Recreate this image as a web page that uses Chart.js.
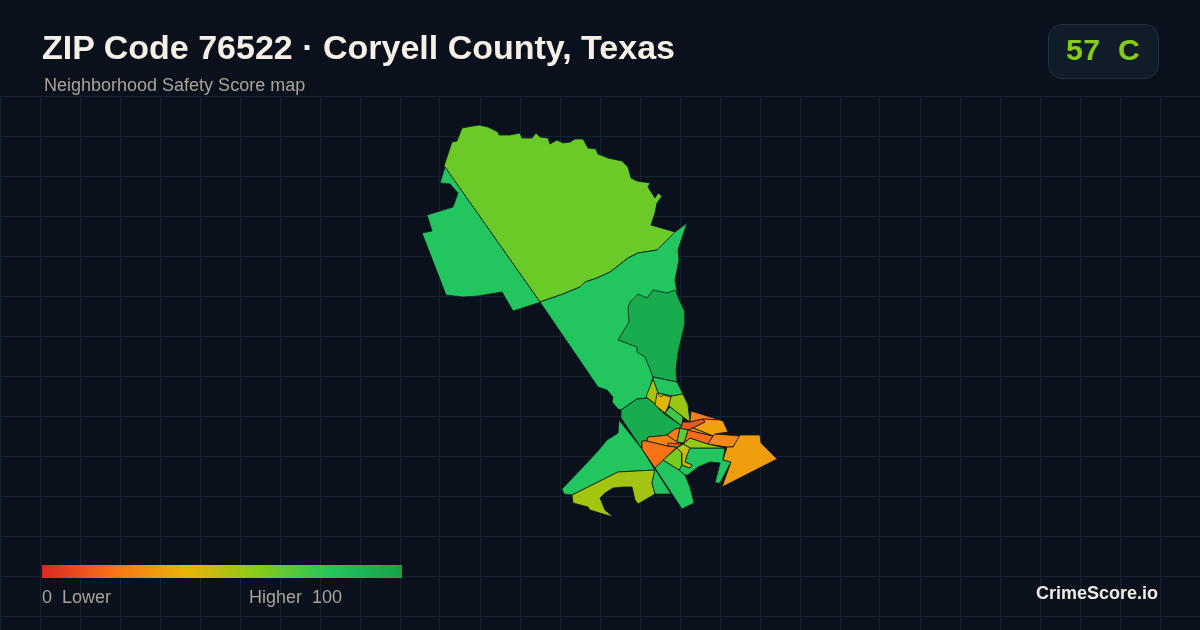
<!DOCTYPE html>
<html>
<head>
<meta charset="utf-8">
<title>ZIP Code 76522</title>
<script src="https://cdn.jsdelivr.net/npm/chart.js@4/dist/chart.umd.min.js"></script>
<style>
  html, body { margin: 0; padding: 0; background: #0a111c; }
  body { width: 1200px; height: 630px; position: relative; overflow: hidden; font-family: "Liberation Sans", Arial, sans-serif; }
  #mapChart { position: absolute; left: 0; top: 0; width: 1200px; height: 630px; }
  .t { position: absolute; white-space: pre; line-height: 1; }
  #title { left: 42px; top: 30px; font-size: 34px; font-weight: bold; color: #f5efe6; }
  #sub { left: 44px; top: 76px; font-size: 18px; color: #a8a498; }
  #badge { position: absolute; left: 1048px; top: 24px; width: 109px; height: 53px; background: #111c29; border: 1px solid #233040; border-radius: 14px; }
  #grade { left: 1066px; top: 35px; font-size: 30px; font-weight: bold; color: #84cc16; letter-spacing: 0.5px; }
  #bar { position: absolute; left: 42px; top: 565px; width: 360px; height: 13px; background: linear-gradient(90deg, #dc2626, #f97316 20%, #eab308 40%, #84cc16 60%, #22c55e 80%, #16a34a); }
  #low { left: 42px; top: 588px; font-size: 18px; color: #a8a498; }
  #high { left: 249px; top: 588px; font-size: 18px; color: #a8a498; }
  #brand { left: 1036px; top: 584px; font-size: 18px; font-weight: bold; color: #f0ece4; }
</style>
</head>
<body>
<canvas id="mapChart" width="1200" height="630"></canvas>
<div class="t" id="title">ZIP Code 76522 · Coryell County, Texas</div>
<div class="t" id="sub">Neighborhood Safety Score map</div>
<div id="badge"></div>
<div class="t" id="grade">57  C</div>
<div id="bar"></div>
<div class="t" id="low">0  Lower</div>
<div class="t" id="high">Higher  100</div>
<div class="t" id="brand">CrimeScore.io</div>
<script>
// grid lines, in map units
const gridX = [0,40,80,120,160,200,240,280,320,360,400,440,480,520,560,600,640,680,720,760,800,840,880,920,960,1000,1040,1080,1120,1160,1200];
const gridY = [96,136,176,216,256,296,336,376,416,456,496,536,576,616];

// score colour ramp, same as the legend
const rampStops = [0, 20, 40, 60, 80, 100];
const rampColors = [[220,38,38],[249,115,22],[234,179,8],[132,204,22],[34,197,94],[22,163,74]];

// tract outlines (map units)
const north = [[445,163],[452,142],[457,141],[462,128],[473,126],[479,125],[488,127],[498,132],[499,135],[510,135],[520,133],[522,138],[532,138],[536,133],[540,137],[548,138],[550,144],[557,140],[563,143],[570,142],[575,139],[583,139],[588,148],[596,149],[598,154],[608,158],[622,161],[628,167],[631,178],[637,181],[650,183],[648,187],[655,198],[658,193],[662,196],[657,203],[655,213],[651,225],[675,232],[657,250],[638,253],[628,258],[610,272],[597,278],[585,282],[580,287],[563,294],[540,302],[444,166]];
const west = [[445,167],[440,183],[450,184],[458,193],[453,207],[427,215],[432,231],[422,233],[446,295],[463,297],[478,296],[502,292],[513,311],[538,303],[540,302]];
const central = [[540,302],[563,294],[580,287],[585,282],[597,278],[610,272],[628,258],[638,253],[657,250],[675,232],[687,223],[678,250],[679,260],[675,280],[678,297],[678,353],[676,370],[677,382],[653,377],[647,398],[637,399],[621,410],[618,409],[612,402],[613,397],[607,390],[598,387]];
const fort = [[630,302],[638,294],[647,298],[653,290],[667,293],[675,290],[678,297],[685,312],[685,323],[678,353],[676,370],[677,382],[653,377],[645,357],[637,352],[637,347],[618,340],[629,322],[628,308]];
const southWest = [[619,420],[618,433],[607,440],[597,452],[583,467],[562,489],[564,494],[572,495],[618,472],[655,470],[642,449]];
const southBend = [[572,495],[618,472],[655,470],[652,483],[655,494],[638,504],[635,500],[632,487],[623,487],[613,488],[605,493],[600,498],[605,510],[613,517],[590,510],[588,507],[573,503]];
const southSmall = [[655,469],[652,483],[655,494],[671,494]];
const southStrip = [[655,468],[663,460],[679,470],[685,475],[690,487],[694,503],[682,509]];
const ridge = [[621,418],[621,410],[637,399],[647,398],[653,402],[663,413],[682,426],[680,428],[675,429],[667,435],[660,436],[648,437],[647,441],[642,441],[642,449]];
const creekTop = [[653,377],[677,382],[683,394],[672,396],[658,393],[653,379]];
const creekWest = [[653,379],[658,393],[672,396],[663,413],[653,402],[646,397]];
const creekGold = [[657,393],[661,397],[663,395],[671,397],[669,405],[665,413],[655,405]];
const creekEast = [[672,396],[683,394],[688,405],[690,422],[683,417],[670,407],[669,405],[671,397]];
const creekLow = [[665,413],[670,407],[683,417],[682,426]];
const eastMain = [[690,448],[725,448],[723,460],[731,462],[720,483],[715,483],[720,463],[710,462],[698,467],[688,475],[685,475],[679,470],[682,465],[690,468],[692,465],[685,462],[687,455]];
const eastThin = [[684,443],[690,438],[708,444],[725,448],[690,448],[683,444]];
const eastRed = [[684,443],[688,430],[713,436],[708,444],[690,438]];
const eastOrange = [[713,436],[715,434],[740,436],[733,447],[727,447],[708,444]];
const eastAmber = [[740,435],[760,435],[761,443],[777,459],[722,487],[731,462],[723,460],[727,447],[733,447]];
const upperOrange = [[691,411],[720,420],[703,419],[690,422]];
const upperRed = [[682,422],[690,422],[703,419],[705,422],[693,428],[688,430],[680,428],[682,426]];
const upperAmber = [[720,420],[723,421],[728,432],[715,434],[713,436],[693,428],[705,422],[703,419]];
const upperMid = [[693,428],[713,436],[688,430]];
const midOrange = [[642,441],[647,441],[668,446],[677,447],[655,468],[642,449]];
const midThin = [[648,437],[660,436],[667,435],[677,442],[682,444],[678,448],[677,447],[668,446],[647,441]];
const midTop = [[667,435],[675,429],[680,428],[677,442]];
const midGreen = [[680,428],[688,430],[684,443],[677,442]];
const midRed = [[668,443],[681,444],[678,447],[676,447],[668,446]];
const midLime = [[663,460],[677,448],[682,453],[682,465],[679,470]];
const midYellow = [[677,448],[683,444],[690,448],[687,455],[685,462],[692,465],[690,468],[682,465],[682,453]];

const tracts = [north, west, central, fort, southWest, southBend, southSmall, southStrip, ridge, creekTop, creekWest, creekGold, creekEast, creekLow, eastMain, eastThin, eastRed, eastOrange, eastAmber, upperOrange, upperRed, upperAmber, upperMid, midOrange, midThin, midTop, midGreen, midRed, midLime, midYellow];
const scores = [65, 80, 80, 95, 80, 54, 80, 80, 95, 80, 54, 42, 56, 74, 80, 57, 18, 27, 33, 24, 13, 34, 28, 20, 26, 23, 68, 14, 63, 47];

function scoreColor(s) {
    let i = 0;
    while (i < rampStops.length - 2 && s > rampStops[i + 1]) i++;
    const f = (s - rampStops[i]) / (rampStops[i + 1] - rampStops[i]);
    const c = rampColors[i].map((v, k) => Math.round(v + (rampColors[i + 1][k] - v) * f));
    return `rgb(${c[0]},${c[1]},${c[2]})`;
}

// Chart.js paints the first dataset last, so big tracts go at the end
const datasets = tracts.map((shape, i) => ({
    data: shape.concat([shape[0]]).map(p => ({ x: p[0], y: p[1] })),
    showLine: true,
    fill: 'shape',
    backgroundColor: scoreColor(scores[i]),
    borderColor: '#0b1a1c',
    borderWidth: 0.8,
    borderJoinStyle: 'round',
    pointRadius: 0,
    tension: 0
})).reverse();

const gridLook = { color: '#14232f', lineWidth: 1, drawTicks: false };

new Chart(document.getElementById('mapChart'), {
    type: 'scatter',
    data: { datasets: datasets },
    options: {
        responsive: false,
        animation: false,
        devicePixelRatio: 1,
        layout: { padding: { top: 96 } },
        plugins: { legend: { display: false }, tooltip: { enabled: false }, title: { display: false } },
        scales: {
            x: {
                min: 0, max: 1200,
                grid: gridLook,
                border: { display: false },
                ticks: { display: false },
                afterBuildTicks: s => { s.ticks = gridX.map(v => ({ value: v })); }
            },
            y: {
                min: 96, max: 630, reverse: true,
                grid: gridLook,
                border: { display: false },
                ticks: { display: false },
                afterBuildTicks: s => { s.ticks = gridY.map(v => ({ value: v })); }
            }
        }
    }
});
</script>
</body>
</html>
